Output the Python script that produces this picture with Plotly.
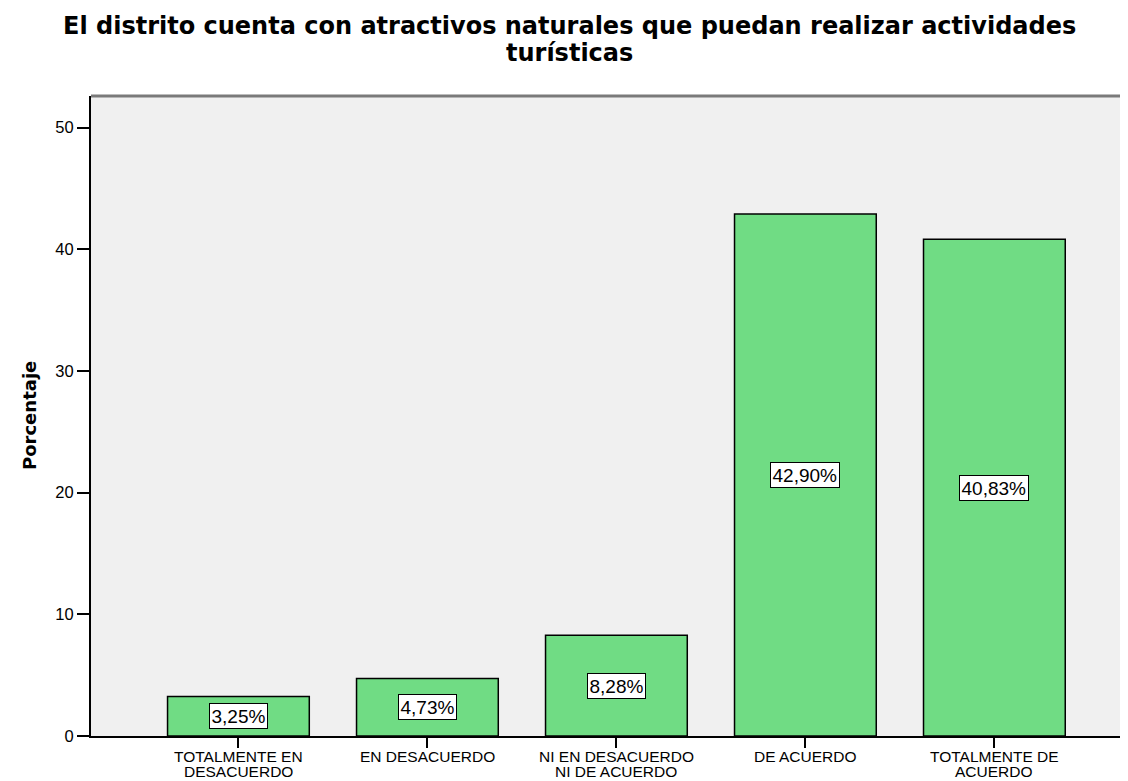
import plotly.graph_objects as go

categories = ["TOTALMENTE EN<br>DESACUERDO", "EN DESACUERDO", "NI EN DESACUERDO<br>NI DE ACUERDO",
              "DE ACUERDO", "TOTALMENTE DE<br>ACUERDO"]
values = [3.25, 4.73, 8.28, 42.90, 40.83]
labels = ["3,25%", "4,73%", "8,28%", "42,90%", "40,83%"]
y_ticks = [0, 10, 20, 30, 40, 50]
title_lines = ["El distrito cuenta con atractivos naturales que puedan realizar actividades", "turísticas"]

FONT = "Liberation Sans, Arial, sans-serif"
TFONT = "DejaVu Sans, Liberation Sans, Arial, sans-serif"

fig = go.Figure()
fig.add_trace(go.Bar(
    x=list(range(len(categories))), y=values,
    marker=dict(color="#70DC84", line=dict(color="black", width=1.5)),
    hoverinfo="skip",
))

# value labels in boxes at mid-height of each bar
for i, (v, t) in enumerate(zip(values, labels)):
    fig.add_annotation(x=i, y=v / 2, text=t, showarrow=False,
                       font=dict(family=FONT, size=19, color="black"),
                       bgcolor="white", bordercolor="black", borderwidth=1, borderpad=1.5)

# category labels (tight line spacing, like the reference)
for i, cat in enumerate(categories):
    for j, line in enumerate(cat.split("<br>")):
        fig.add_annotation(x=i, xref="x", yref="paper", y=0, yanchor="top", xanchor="center",
                           yshift=-9.75 - 15.5 * j, text=line, showarrow=False,
                           font=dict(family=FONT, size=15.5, color="black"))

fig.add_shape(type="line", xref="paper", yref="paper", x0=0, x1=1, y0=1, y1=1,
              line=dict(color="#7a7a7a", width=3))

fig.add_annotation(xref="paper", yref="paper", x=0, y=0.5, xanchor="center", yanchor="middle",
                   xshift=-62, textangle=-90,
                   text="<b>Porcentaje</b>", showarrow=False,
                   font=dict(family=TFONT, size=18, color="black"))

# title (two lines with tight spacing)
for j, line in enumerate(title_lines):
    fig.add_annotation(xref="paper", yref="paper", x=0.461, y=1, xanchor="center", yanchor="middle",
                       yshift=70 - 27 * j, text="<b>" + line + "</b>", showarrow=False,
                       font=dict(family=TFONT, size=24, color="black"))

fig.update_layout(
    width=1128, height=781,
    margin=dict(l=83, r=8, t=88, b=53),
    paper_bgcolor="white", plot_bgcolor="#F0F0F0",
    bargap=0.25, showlegend=False,
    font=dict(family=FONT, color="black"),
)
fig.update_xaxes(
    range=[-0.78, 4.707], tickmode="array", tickvals=list(range(len(categories))),
    ticktext=["" for _ in categories],
    ticks="outside", ticklen=10, tickwidth=1.5, tickcolor="black",
    showline=True, linecolor="black", linewidth=1.5, showgrid=False, zeroline=False,
    automargin=False,
)
fig.update_yaxes(
    range=[0, 52.6], tickmode="array", tickvals=y_ticks,
    ticks="outside", ticklen=12, tickwidth=1.5, tickcolor="black",
    showline=True, linecolor="black", linewidth=2, showgrid=False, zeroline=False,
    tickfont=dict(family=FONT, size=16.5, color="black"), automargin=False,
)

fig.write_html("out.html")
